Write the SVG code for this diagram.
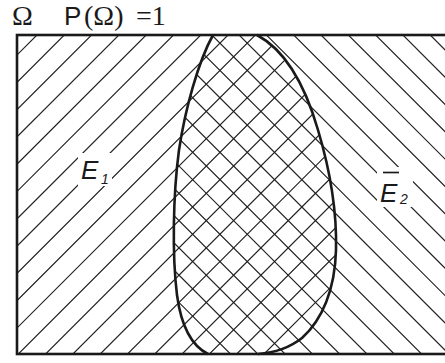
<svg xmlns="http://www.w3.org/2000/svg" width="445" height="363" viewBox="0 0 445 363">
<style>
.hatch{fill:none;stroke:#222;stroke-width:1.2}
.edge{fill:none;stroke:#1a1a1a;stroke-width:2.6}
.serif{font-family:"Liberation Serif","Times New Roman",serif;fill:#1a1a1a}
.sans{font-family:"Liberation Sans",Arial,sans-serif;fill:#1a1a1a}
.lbl{font-family:"Liberation Sans",Arial,sans-serif;font-style:italic;fill:#1a1a1a}
</style>
<defs>
<clipPath id="clipE1">
<path d="M17,35 L257,35 C285,50 305,85 318,130 C330,170 337,210 336,250 C335,290 322,320 302,338 C288,349 272,353 258,354 L17,354 Z"/>
</clipPath>
<clipPath id="clipE2">
<path d="M446,35 L213,35 C198,62 185,110 179,150 C173,195 172,255 177,295 C181,325 190,345 208,354 L446,354 Z"/>
</clipPath>
</defs>
<rect width="445" height="363" fill="#fff"/>
<g id="hatchE1" clip-path="url(#clipE1)">
<path class="hatch" d="M14.7,30l-330,330M42,30l-330,330M69.3,30l-330,330M96.6,30l-330,330M123.9,30l-330,330M151.2,30l-330,330M178.5,30l-330,330M205.8,30l-330,330M233.1,30l-330,330M260.4,30l-330,330M287.7,30l-330,330M315,30l-330,330M342.3,30l-330,330M369.6,30l-330,330M396.9,30l-330,330M424.2,30l-330,330M451.5,30l-330,330M478.8,30l-330,330M506.1,30l-330,330M533.4,30l-330,330M560.7,30l-330,330M588,30l-330,330M615.3,30l-330,330M642.6,30l-330,330M669.9,30l-330,330"/>
</g>
<g id="hatchE2" clip-path="url(#clipE2)">
<path class="hatch" d="M-175.4,30l330,330M-148.1,30l330,330M-120.8,30l330,330M-93.5,30l330,330M-66.2,30l330,330M-38.9,30l330,330M-11.6,30l330,330M15.7,30l330,330M43,30l330,330M70.3,30l330,330M97.6,30l330,330M124.9,30l330,330M152.2,30l330,330M179.5,30l330,330M206.8,30l330,330M234.1,30l330,330M261.4,30l330,330M288.7,30l330,330M316,30l330,330M343.3,30l330,330M370.6,30l330,330M397.9,30l330,330M425.2,30l330,330M452.5,30l330,330"/>
</g>
<g id="omega">
<rect class="edge" x="17" y="35" width="440" height="319"/>
</g>
<g id="blob">
<path class="edge" d="M213,35 C198,62 185,110 179,150 C173,195 172,255 177,295 C181,325 190,345 208,354"/>
<path class="edge" d="M257,35 C285,50 305,85 318,130 C330,170 337,210 336,250 C335,290 322,320 302,338 C288,349 272,353 258,354"/>
</g>
<g id="labelE1">
<rect x="78" y="153" width="34" height="33" fill="#fff"/>
<text class="lbl" x="81" y="179" font-size="26">E</text>
<text class="lbl" x="101" y="184" font-size="14">1</text>
</g>
<g id="labelE2">
<rect x="377" y="167" width="36" height="40" fill="#fff"/>
<line x1="383" y1="172.5" x2="399" y2="172.5" stroke="#1a1a1a" stroke-width="1.7"/>
<text class="lbl" x="380" y="202" font-size="26">E</text>
<text class="lbl" x="400" y="204" font-size="14">2</text>
</g>
<g id="title">
<text class="serif" x="12" y="25" font-size="28">Ω</text>
<text class="sans" x="64" y="25" font-size="26">P</text>
<text class="serif" x="84" y="25" font-size="28">(Ω)</text>
<text class="serif" x="136" y="25" font-size="28">=1</text>
</g>
</svg>
